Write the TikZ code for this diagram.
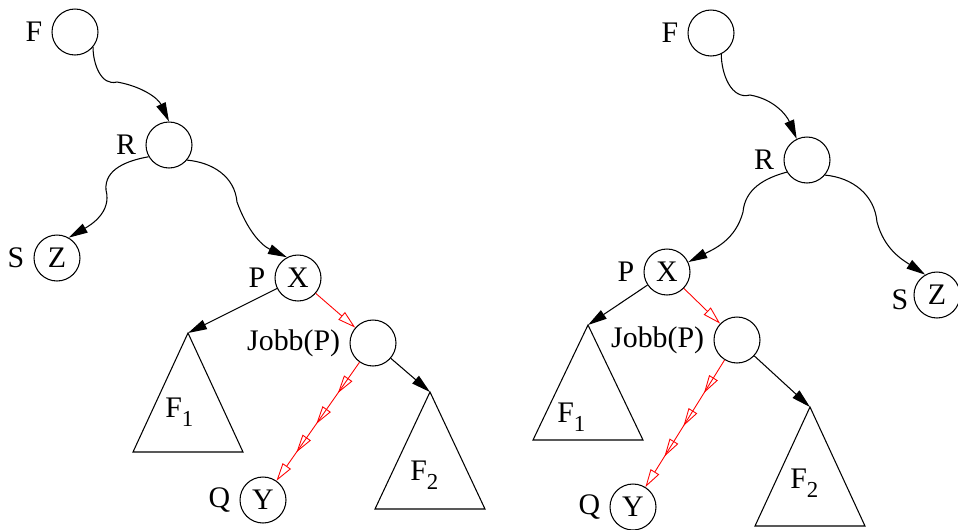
\documentclass[tikz,border=0pt]{standalone}
\usepackage{fontspec}
\setmainfont{Liberation Serif}
\usetikzlibrary{arrows.meta,decorations.markings}
\definecolor{ptrRed}{RGB}{255,0,0}
\newcommand{\Fsub}[1]{F\raisebox{-5.5pt}{\fontsize{13}{15}\selectfont #1}}
\tikzset{
    base/.style={font=\fontsize{17}{20}\selectfont},
    knot/.style={base, circle, draw, line width=0.6pt, minimum size=0.92cm,
                 inner sep=0pt},
    lbl/.style={base, inner sep=0pt, xshift=-0.18cm},
    link/.style={-{Triangle[length=0.38cm,width=0.2cm]}, line width=0.6pt},
    walk/.style={ptrRed, line width=0.5pt, -{Triangle[open,length=0.36cm,width=0.2cm]}},
    walks/.style={walk, postaction={decorate},
                  decoration={markings,
                    mark=at position 0.26 with {\arrow{Triangle[open,length=0.36cm,width=0.2cm]}},
                    mark=at position 0.52 with {\arrow{Triangle[open,length=0.36cm,width=0.2cm]}},
                    mark=at position 0.76 with {\arrow{Triangle[open,length=0.36cm,width=0.2cm]}}}},
    subtree/.style={line width=0.6pt}
}

\begin{document}
\begin{tikzpicture}[x=0.02cm, y=0.02cm]
  \useasboundingbox (0,0) rectangle (958,-529);

  % Left tree
  \node[knot, label={[lbl]left:F}] (lf) at (75,-32) {};
  \node[knot, label={[lbl]left:R}] (lr) at (169,-145) {};
  \node[knot, label={[lbl]left:S}] (lz) at (57,-258) {Z};
  \node[knot, label={[lbl]left:P}] (lx) at (298,-278) {X};
  \node[knot, label={[lbl]left:Jobb(P)}] (lj) at (373,-343) {};
  \node[knot, label={[lbl]left:Q}] (ly) at (263,-500) {Y};

  % Subtrees
  \coordinate (l1top) at (188,-333);
  \coordinate (l2top) at (430,-392);
  \draw[subtree] (l1top) -- ++(-55,-119) -- ++(110,0) -- cycle;
  \draw[subtree] (l2top) -- ++(-55,-117) -- ++(110,0) -- cycle;
  \node[base, inner sep=0pt, anchor=base west] (lf1) at (165,-417) {\Fsub{1}};
  \node[base, inner sep=0pt, anchor=base west] (lf2) at (410,-480) {\Fsub{2}};

  % Arrows
  \draw[link] (lf.-40) to[out=-90,in=195] (117,-82) to[out=-10,in=115] (lr.north);
  \draw[link] (lr.210) to[out=190,in=95] (106,-190) to[out=-75,in=30] (lz.60);
  \draw[link] (lr.-40) to[out=-5,in=95] (237,-202) to[out=-70,in=155] (lx.118);
  \draw[link] (lx) -- (l1top);
  \draw[link] (lj) -- (l2top);
  \draw[walk] (lx) -- (lj);
  \draw[walks] (lj) -- (ly);

  % Right tree
  \node[knot, label={[lbl]left:F}] (rf) at (711,-33) {};
  \node[knot, label={[lbl]left:R}] (rr) at (807,-160) {};
  \node[knot, label={[lbl]left:P}] (rx) at (667,-272) {X};
  \node[knot, label={[lbl, xshift=0.08cm, yshift=-0.1cm]left:S}] (rz) at (937,-295) {Z};
  \node[knot, label={[lbl]left:Jobb(P)}] (rj) at (737,-340) {};
  \node[knot, label={[lbl]left:Q}] (ry) at (633,-507) {Y};

  % Subtrees
  \coordinate (r1top) at (588,-325);
  \coordinate (r2top) at (810,-407);
  \draw[subtree] (r1top) -- ++(-55,-115) -- ++(110,0) -- cycle;
  \draw[subtree] (r2top) -- ++(-55,-119) -- ++(110,0) -- cycle;
  \node[base, inner sep=0pt, anchor=base west] (rf1) at (557,-422) {\Fsub{1}};
  \node[base, inner sep=0pt, anchor=base west] (rf2) at (790,-488) {\Fsub{2}};

  % Arrows
  \draw[link] (rf.-64) to[out=-90,in=195] (750,-95) to[out=-10,in=113] (rr.116);
  \draw[link] (rr.211) to[out=195,in=85] (743,-212) to[out=-105,in=27] (rx.25);
  \draw[link] (rr.-40) to[out=-5,in=95] (877,-222) to[out=-75,in=147] (rz.120);
  \draw[link] (rx) -- (r1top);
  \draw[link] (rj) -- (r2top);
  \draw[walk] (rx) -- (rj);
  \draw[walks] (rj) -- (ry);
\end{tikzpicture}
\end{document}
